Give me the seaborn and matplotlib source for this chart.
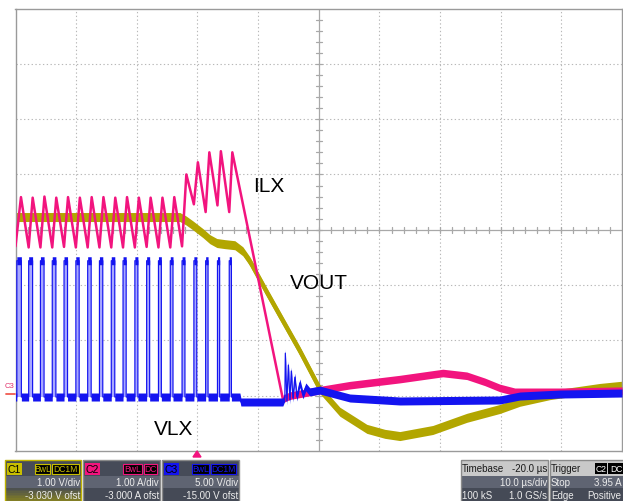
import numpy as np
import pandas as pd
import matplotlib
matplotlib.use("Agg")
import matplotlib.pyplot as plt
from matplotlib.patches import Rectangle, Polygon
import seaborn as sns

# ---------------- scope settings (as shown on screen) ----------------
C1_SCALE, C1_OFST = 1.00, -3.030   # VOUT  V/div, V offset
C2_SCALE, C2_OFST = 1.00, -3.000   # ILX   A/div, A offset
C3_SCALE, C3_OFST = 5.00, -15.00   # VLX   V/div, V offset
T_DIV = 10.0                        # us/div
T_LEFT = -30.0                      # us at left edge (trigger 3 div from left)

# ---------------- VOUT (C1), volts ----------------
vout_t = [-30.0, -2.90, -1.91, -0.76, 0.89, 2.04, 3.20, 4.52, 6.17, 7.49, 8.64,
          11.44, 14.41, 16.88, 20.18, 23.48, 27.93, 30.90, 33.37, 38.81, 44.42,
          49.86, 53.16, 58.11, 66.35, 70.0]
vout_v = [3.26, 3.26, 3.20, 3.11, 2.97, 2.86, 2.79, 2.77, 2.75, 2.64, 2.46,
          1.90, 1.32, 0.84, 0.15, -0.26, -0.57, -0.66, -0.70, -0.59, -0.37,
          -0.21, -0.08, 0.04, 0.17, 0.21]

# ---------------- ILX (C2), amps ----------------
ilx_t = [-30.0, -29.10, -27.83, -27.17, -25.89, -25.23, -23.94, -23.28, -22.00, -21.34,
         -20.05, -19.39, -18.10, -17.44, -16.16, -15.50, -14.21, -13.55, -12.27, -11.61,
         -10.32, -9.66, -8.38, -7.72, -6.43, -5.77, -4.48, -3.82, -2.54, -1.83,
         -0.59, 0.07, 1.35, 1.96, 3.30, 3.86, 5.24, 5.75,
         14.08, 15.23, 20.18, 25.13, 33.37, 40.46, 44.42, 47.39, 49.86, 52.33, 59.75, 70.0]
ilx_a = [2.70, 3.59, 2.68, 3.58, 2.68, 3.60, 2.68, 3.58, 2.69, 3.59,
         2.68, 3.58, 2.68, 3.59, 2.68, 3.59, 2.68, 3.58, 2.68, 3.59,
         2.68, 3.58, 2.69, 3.58, 2.68, 3.58, 2.68, 3.59, 2.70, 4.00,
         3.46, 4.22, 3.32, 4.40, 3.44, 4.42, 3.32, 4.40,
         -0.06, 0.00, 0.10, 0.19, 0.30, 0.41, 0.36, 0.25, 0.14, 0.07, 0.07, 0.09]

# ---------------- VLX (C3), volts ----------------
vlx_pulse_start = [-29.78, -27.83, -25.89, -23.94, -22.00, -20.05, -18.10, -16.16, -14.21,
                   -12.27, -10.32, -8.38, -6.43, -4.48, -2.54, -0.59, 1.35, 3.30, 5.24]
vlx_pulse_width = [0.75, 0.65, 0.60, 0.60, 0.58, 0.55, 0.58, 0.55, 0.58,
                   0.52, 0.50, 0.50, 0.48, 0.45, 0.48, 0.48, 0.40, 0.36, 0.36]
vlx_high = 12.2
vlx_low = -0.12
vlx_tail_t = [7.00, 7.16, 14.08, 14.41, 14.49, 14.74, 14.99, 15.23, 15.48, 15.73,
              16.06, 16.39, 16.88, 17.38, 17.87, 18.53, 20.18, 25.13, 33.37, 49.86,
              53.16, 59.75, 70.0]
vlx_tail_v = [-0.12, -0.57, -0.57, -0.12, 3.85, -0.48, 2.77, -0.39, 2.23, -0.21,
              1.68, -0.12, 1.15, 0.07, 0.79, 0.34, 0.51, -0.21, -0.48, -0.39,
              -0.03, 0.15, 0.24]

# ---------------- colours ----------------
COL_C1 = "#B2A600"
COL_C2 = "#F2147E"
COL_C3 = "#1414F0"

# ---------------- build frames ----------------
def to_div(v, scale, ofst):
    return (np.asarray(v, float) + ofst) / scale

df_vout = pd.DataFrame({"t": vout_t, "pos": to_div(vout_v, C1_SCALE, C1_OFST)})
df_ilx = pd.DataFrame({"t": ilx_t, "pos": to_div(ilx_a, C2_SCALE, C2_OFST)})

vt, vv = [T_LEFT], [vlx_low]
for s, w in zip(vlx_pulse_start, vlx_pulse_width):
    vt += [s, s, s + w, s + w]
    vv += [vlx_low, vlx_high, vlx_high, vlx_low]
vt += vlx_tail_t
vv += vlx_tail_v
df_vlx = pd.DataFrame({"t": vt, "pos": to_div(vv, C3_SCALE, C3_OFST)})

# ---------------- figure ----------------
sns.set_theme(style="white")
plt.rcParams["font.family"] = ["Liberation Sans", "DejaVu Sans"]

W, H = 623, 502
fig = plt.figure(figsize=(W / 100, H / 100), dpi=100)
fig.patch.set_facecolor("white")

X0, X1, Y0, Y1 = 15.5, 622.0, 9.5, 452.0
ax = fig.add_axes([X0 / W, 1 - Y1 / H, (X1 - X0) / W, (Y1 - Y0) / H])
ax.set_xlim(T_LEFT, T_LEFT + 10 * T_DIV)
ax.set_ylim(-4, 4)
ax.set_facecolor("white")
for sp in ax.spines.values():
    sp.set_color("#9a9a9a")
    sp.set_linewidth(1.0)
ax.set_xticks([]); ax.set_yticks([])

px_per_div_y = (Y1 - Y0) / 8.0
def hpx(p):  # pixel height -> divisions
    return p / px_per_div_y

# grid
grid_kw = dict(color="#b8b8b8", lw=0.8, ls=(0, (1.2, 2.2)), zorder=1)
for i in range(1, 10):
    if i != 5:
        ax.axvline(T_LEFT + i * T_DIV, **grid_kw)
for j in range(-3, 4):
    if j != 0:
        ax.axhline(j, **grid_kw)
tc = T_LEFT + 5 * T_DIV
ax.axvline(tc, color="#a8a8a8", lw=0.9, zorder=1)
ax.axhline(0, color="#a8a8a8", lw=0.9, zorder=1)
for k in range(1, 50):
    xt = T_LEFT + k * T_DIV / 5
    ax.plot([xt, xt], [-hpx(3), hpx(3)], color="#a8a8a8", lw=0.9, zorder=1)
dx = 3 * T_DIV / ((X1 - X0) / 10)
for k in range(-19, 20):
    yt = k / 5
    ax.plot([tc - dx, tc + dx], [yt, yt], color="#a8a8a8", lw=0.9, zorder=1)

# VOUT
ax.fill_between(df_vout["t"], df_vout["pos"] - hpx(4.5), df_vout["pos"] + hpx(4.5),
                color=COL_C1, lw=0, zorder=2)
sns.lineplot(data=df_vout, x="t", y="pos", ax=ax, color=COL_C1, lw=3.0,
             estimator=None, sort=False, zorder=2)

# ILX
sns.lineplot(data=df_ilx, x="t", y="pos", ax=ax, color=COL_C2, lw=1.8,
             estimator=None, sort=False, zorder=3)
tail = df_ilx[df_ilx["t"] >= 14.0]
ax.fill_between(tail["t"], tail["pos"] - hpx(3.8), tail["pos"] + hpx(3.8),
                color=COL_C2, lw=0, zorder=3)

# VLX
low_pos = to_div(vlx_low, C3_SCALE, C3_OFST)
ax.fill_between(df_vlx["t"], low_pos, df_vlx["pos"], where=df_vlx["pos"] > low_pos + 0.5,
                color="#a8a8ff", lw=0, zorder=4)
ax.fill_between(df_vlx["t"], df_vlx["pos"] - hpx(4.0), df_vlx["pos"] + hpx(4.0),
                color=COL_C3, lw=0, zorder=4)
sns.lineplot(data=df_vlx, x="t", y="pos", ax=ax, color=COL_C3, lw=0.85,
             estimator=None, sort=False, zorder=4)
ax.set_xlabel(""); ax.set_ylabel("")

# ---------------- labels ----------------
def fx(x): return x / W
def fy(y): return 1 - y / H

lab_kw = dict(fontsize=15, color="black", ha="center", va="center")
fig.text(fx(269), fy(186), "ILX", **lab_kw)
fig.text(fx(318.5), fy(283.5), "VOUT", **lab_kw)
fig.text(fx(174), fy(430), "VLX", **lab_kw)

# C3 ground marker
fig.text(fx(10), fy(387), "C3", fontsize=5.5, color="#E0306A", ha="center", va="center")
fig.add_artist(plt.Line2D([fx(6), fx(15)], [fy(395), fy(395)], color="#F05A50", lw=1.3))

# trigger marker
fig.add_artist(Polygon([(fx(193), fy(458)), (fx(201), fy(458)), (fx(197), fy(452))],
                       closed=True, color=COL_C2, transform=fig.transFigure))

# ---------------- bottom info bar ----------------
def rect(x0, y0, x1, y1, **kw):
    r = Rectangle((fx(x0), fy(y1)), fx(x1) - fx(x0), fy(y0) - fy(y1),
                  transform=fig.transFigure, **kw)
    fig.add_artist(r)

def box_bg(x0, x1, light_top=False):
    rect(x0, 461, x1, 477, facecolor="#c9c9c9" if light_top else "#464b58", lw=0)
    rect(x0, 477, x1, 489, facecolor="#5f6472", lw=0)
    rect(x0, 489, x1, 503, facecolor="#454a56", lw=0)

TXT = "#ececec"
small = dict(fontsize=7, va="center")

def chan_box(x0, x1, col, name, tags, tag_x, vdiv, ofst, border, glow=None):
    box_bg(x0, x1)
    if glow is not None:
        for i in range(8):
            rect(x0, 489 + i * 1.65, x1, 490.7 + i * 1.65, facecolor=glow,
                 alpha=0.08 + i * 0.07, lw=0)
    rect(x0 + 2, 464, x0 + 17, 476, facecolor=col, lw=0)
    fig.text(fx(x0 + 9.5), fy(470), name, color="black", ha="center", fontsize=7.5, va="center")
    for (a, b), tg in zip(tag_x, tags):
        rect(a, 465, b, 475, facecolor="black", edgecolor=col, lw=0.8)
        fig.text(fx((a + b) / 2), fy(470), tg, color=col, ha="center", fontsize=6.2, va="center")
    fig.text(fx(x1 - 1), fy(483), vdiv, color=TXT, ha="right", **small)
    fig.text(fx(x1 - 1), fy(496), ofst, color=TXT, ha="right", **small)
    rect(x0, 461, x1, 503, facecolor="none", edgecolor=border, lw=1.0)

chan_box(5, 81, "#C8BE00", "C1", ["BwL", "DC1M"], [(35, 50), (52, 79)],
         "1.00 V/div", "-3.030 V ofst", "#C0B400", glow=COL_C1)
chan_box(83, 160, COL_C2, "C2", ["BwL", "DC"], [(123, 142), (144, 157)],
         "1.00 A/div", "-3.000 A ofst", "#8a8a8a")
chan_box(162, 239, COL_C3, "C3", ["BwL", "DC1M"], [(192, 209), (211, 236)],
         "5.00 V/div", "-15.00 V ofst", "#8a8a8a")

# Timebase
box_bg(461, 548, light_top=True)
fig.text(fx(462), fy(469), "Timebase", color="#1a1a1a", ha="left", **small)
fig.text(fx(547), fy(469), "-20.0 µs", color="#1a1a1a", ha="right", **small)
fig.text(fx(547), fy(483), "10.0 µs/div", color=TXT, ha="right", **small)
fig.text(fx(462), fy(496), "100 kS", color=TXT, ha="left", **small)
fig.text(fx(547), fy(496), "1.0 GS/s", color=TXT, ha="right", **small)
rect(461, 461, 548, 503, facecolor="none", edgecolor="#8a8a8a", lw=1.0)

# Trigger
box_bg(550, 630, light_top=True)
fig.text(fx(551), fy(469), "Trigger", color="#1a1a1a", ha="left", **small)
rect(595, 464, 607, 475, facecolor="black", lw=0)
fig.text(fx(601), fy(469.5), "C2", color="white", ha="center", fontsize=6.2, va="center")
rect(608, 464, 625, 475, facecolor="black", lw=0)
fig.text(fx(616), fy(469.5), "DC", color="white", ha="center", fontsize=6.2, va="center")
fig.text(fx(551), fy(483), "Stop", color=TXT, ha="left", **small)
fig.text(fx(621.5), fy(483), "3.95 A", color=TXT, ha="right", **small)
fig.text(fx(551), fy(496), "Edge", color=TXT, ha="left", **small)
fig.text(fx(621.5), fy(496), "Positive", color=TXT, ha="right", **small)
rect(550, 461, 630, 503, facecolor="none", edgecolor="#8a8a8a", lw=1.0)

fig.savefig("out.png", dpi=100, facecolor="white")
